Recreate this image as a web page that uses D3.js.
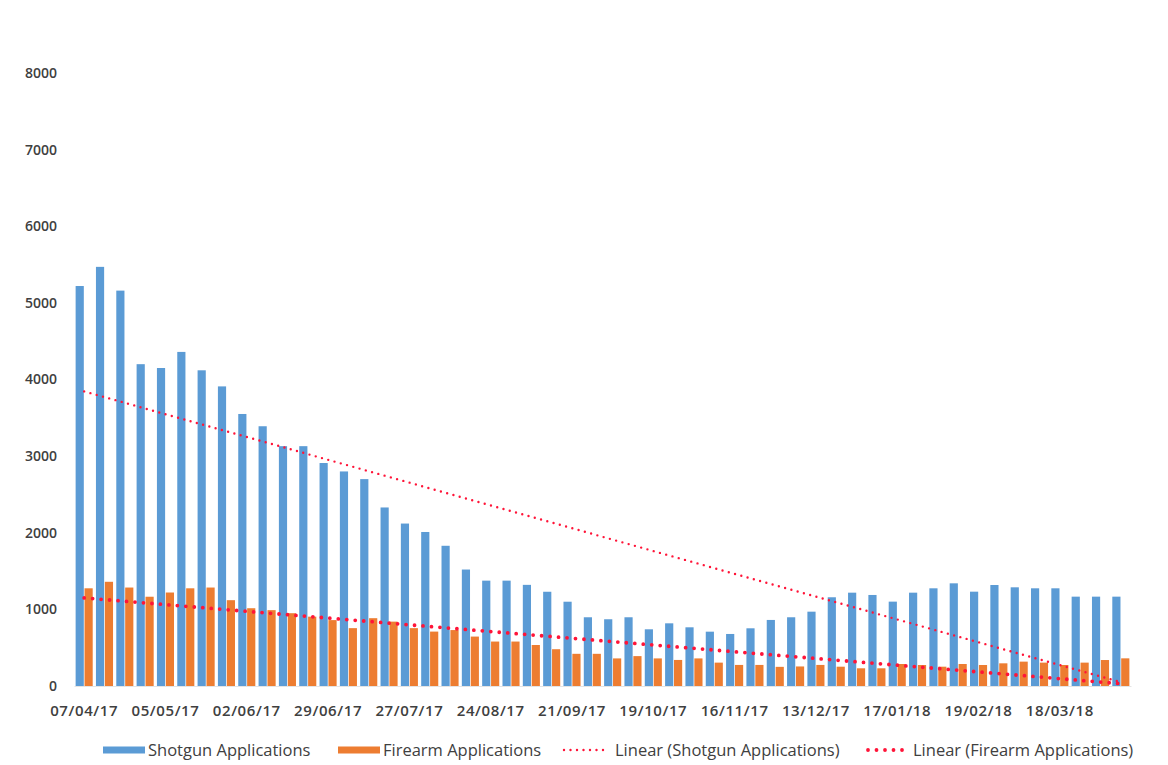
<!DOCTYPE html>
<html>
<head>
<meta charset="utf-8">
<script src="https://cdn.jsdelivr.net/npm/d3@7"></script>
<style>
  body { margin: 0; background: #fff; }
  svg { display: block; font-family: "Open Sans", sans-serif; }
</style>
</head>
<body>
<div id="chart"></div>
<script>
// weekly applications, one entry per week
const shotgun = [5220, 5470, 5160, 4200, 4150, 4360, 4120, 3910, 3550, 3390,
                 3130, 3130, 2910, 2800, 2700, 2330, 2120, 2010, 1830, 1520,
                 1375, 1375, 1320, 1230, 1100, 897, 871, 897, 740, 818,
                 766, 709, 679, 753, 862, 897, 970, 1158, 1218, 1188,
                 1101, 1218, 1275, 1340, 1231, 1318, 1288, 1275, 1275, 1166,
                 1166, 1166];
const firearm = [1275, 1360, 1285, 1165, 1220, 1275, 1285, 1120, 1015, 990,
                 950, 905, 860, 755, 885, 840, 755, 710, 730, 645,
                 580, 580, 535, 480, 420, 420, 360, 390, 360, 340,
                 360, 305, 275, 275, 250, 255, 275, 252, 231, 231,
                 287, 274, 252, 287, 274, 296, 318, 305, 274, 305,
                 339, 361];
// labels shown every 4th week
const tickLabels = ["07/04/17", "05/05/17", "02/06/17", "29/06/17", "27/07/17", "24/08/17",
                    "21/09/17", "19/10/17", "16/11/17", "13/12/17", "17/01/18", "19/02/18", "18/03/18"];
// linear trend lines, start and end value
const shotgunTrend = [3845, 50];
const firearmTrend = [1150, 30];
const yTicks = [0, 1000, 2000, 3000, 4000, 5000, 6000, 7000, 8000];

const WIDTH = 1168, HEIGHT = 765;
const BLUE = "#5b9bd5", ORANGE = "#ed7d31", RED = "#ff1438";

const svg = d3.select("#chart").append("svg")
    .attr("width", WIDTH)
    .attr("height", HEIGHT);

const weeks = d3.range(shotgun.length);

const x = d3.scaleBand()
    .domain(weeks)
    .range([74, 1131])
    .paddingInner(0.16)
    .paddingOuter(0.08);

const xSub = d3.scaleBand()
    .domain(["s", "f"])
    .range([0, x.bandwidth()])
    .paddingInner(0.08);

const y = d3.scaleLinear()
    .domain([0, 8000])
    .range([686, 73]);

// y axis
const yAxis = svg.append("g")
    .attr("transform", "translate(60,0)")
    .call(d3.axisLeft(y).tickValues(yTicks).tickSize(0).tickPadding(3).tickFormat(d3.format("d")));
yAxis.select(".domain").remove();
yAxis.selectAll("text")
    .attr("fill", "#404040")
    .style("font-size", "14px")
    .style("font-weight", "600")
    .style("font-family", "'Open Sans', sans-serif");

// bars
const groups = svg.append("g").selectAll("g")
    .data(weeks)
    .enter()
    .append("g")
    .attr("transform", (d) => "translate(" + x(d) + ",0)");

groups.append("rect")
    .attr("x", xSub("s"))
    .attr("y", (d) => y(shotgun[d]))
    .attr("width", xSub.bandwidth())
    .attr("height", (d) => y(0) - y(shotgun[d]))
    .attr("fill", BLUE);

groups.append("rect")
    .attr("x", xSub("f"))
    .attr("y", (d) => y(firearm[d]))
    .attr("width", xSub.bandwidth())
    .attr("height", (d) => y(0) - y(firearm[d]))
    .attr("fill", ORANGE);

// x axis
const xAxis = svg.append("g")
    .attr("transform", "translate(0," + y(0) + ")")
    .call(d3.axisBottom(x)
        .tickValues(weeks.filter((d) => d % 4 === 0))
        .tickFormat((d) => tickLabels[d / 4])
        .tickSize(0)
        .tickPadding(19));
xAxis.select(".domain").attr("stroke", "#e4e4e4");
xAxis.selectAll("text")
    .attr("fill", "#404040")
    .style("font-size", "15px")
    .style("font-weight", "600")
    .style("letter-spacing", "0.6px")
    .style("font-family", "'Open Sans', sans-serif");

// trend lines
const first = weeks[0], last = weeks[weeks.length - 1];
const cx = (d) => x(d) + x.bandwidth() / 2;

svg.append("line")
    .attr("x1", cx(first)).attr("y1", y(shotgunTrend[0]))
    .attr("x2", cx(last)).attr("y2", y(shotgunTrend[1]))
    .attr("stroke", RED)
    .attr("stroke-width", 2.4)
    .attr("stroke-linecap", "round")
    .attr("stroke-dasharray", "0 6.5");

svg.append("line")
    .attr("x1", cx(first)).attr("y1", y(firearmTrend[0]))
    .attr("x2", cx(last)).attr("y2", y(firearmTrend[1]))
    .attr("stroke", RED)
    .attr("stroke-width", 3.8)
    .attr("stroke-linecap", "round")
    .attr("stroke-dasharray", "0 8.5");

// legend
const legendItems = [
  {label: "Shotgun Applications", type: "bar", color: BLUE, x: 103},
  {label: "Firearm Applications", type: "bar", color: ORANGE, x: 338},
  {label: "Linear (Shotgun Applications)", type: "small", color: RED, x: 562},
  {label: "Linear (Firearm Applications)", type: "big", color: RED, x: 865}
];
const LEGEND_Y = 750;

const legend = svg.append("g").selectAll("g")
    .data(legendItems)
    .enter()
    .append("g")
    .attr("transform", (d) => "translate(" + d.x + "," + LEGEND_Y + ")");

legend.filter((d) => d.type === "bar").append("rect")
    .attr("x", 0).attr("y", -3.5)
    .attr("width", 42).attr("height", 7)
    .attr("fill", (d) => d.color);

legend.filter((d) => d.type !== "bar").append("line")
    .attr("x1", (d) => d.type === "small" ? 2 : 3)
    .attr("x2", (d) => d.type === "small" ? 46 : 38)
    .attr("y1", 0).attr("y2", 0)
    .attr("stroke", (d) => d.color)
    .attr("stroke-width", (d) => d.type === "small" ? 2.4 : 3.8)
    .attr("stroke-linecap", "round")
    .attr("stroke-dasharray", (d) => d.type === "small" ? "0 6.5" : "0 8.5");

legend.append("text")
    .attr("x", (d) => d.type === "bar" ? 45 : (d.type === "small" ? 53 : 48))
    .attr("y", 0)
    .attr("dy", "0.35em")
    .attr("fill", "#404040")
    .style("font-size", "16.5px")
    .text((d) => d.label);
</script>
</body>
</html>
